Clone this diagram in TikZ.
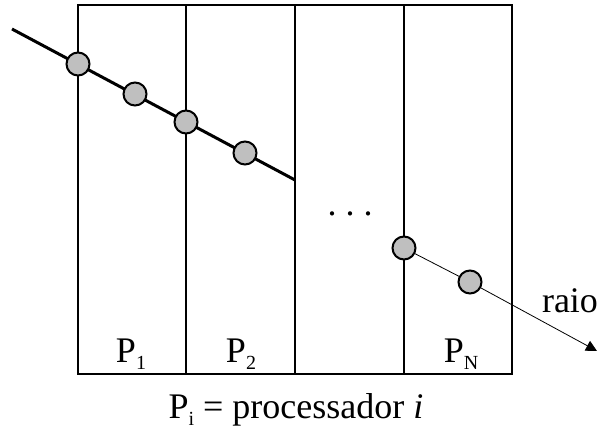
\documentclass[tikz,border=0pt]{standalone}
\usepackage{fontspec}
\setmainfont{Liberation Serif}
\usetikzlibrary{arrows.meta}
\newcommand{\lowidx}[1]{\raisebox{-0.45ex}{\fontsize{20}{20}\selectfont #1}}

\begin{document}
\begin{tikzpicture}[x=1pt, y=-1pt,
    wall/.style={line width=2.4pt},
    hit/.style={circle, draw, line width=2pt, fill=black!25, minimum size=23pt, inner sep=0pt},
    lbl/.style={font=\fontsize{36}{40}\selectfont, anchor=base, inner sep=0pt}]
    \useasboundingbox (0,0) rectangle (598,434);

    % processor strips
    \draw[wall] (78,5) rectangle (512,374);
    \foreach \x in {186,295,404}
        \draw[wall] (\x,5) -- (\x,374);

    % ray through the first strips
    \coordinate (start) at (12,29);
    \coordinate (stop) at (295,180);
    \draw[line width=3pt] (start) -- (stop);
    \node[hit] (h1) at (78,64) {};
    \node[hit] (h2) at (135,94) {};
    \node[hit] (h3) at (186,122) {};
    \node[hit] (h4) at (245,153) {};

    % ray in the last strip
    \node[hit] (h5) at (404,248) {};
    \node[hit] (h6) at (470,282) {};
    \coordinate (tip) at (597,351);
    \draw[line width=0.8pt] (h5) -- (h6);
    \draw[line width=0.8pt, -{Triangle[width=11pt, length=11pt]}] (h6) -- (tip);

    % labels
    \node[lbl] (p1) at (131,362) {P\lowidx{1}};
    \node[lbl] (p2) at (241,362) {P\lowidx{2}};
    \node[lbl] (pn) at (461,362) {P\lowidx{N}};
    \node[lbl] (dots) at (350,215) {.\ .\ .};
    \node[lbl] (raio) at (570,312) {raio};
    \node[lbl] (legend) at (296,418) {P\lowidx{i} = processador \textit{i}};
\end{tikzpicture}
\end{document}
